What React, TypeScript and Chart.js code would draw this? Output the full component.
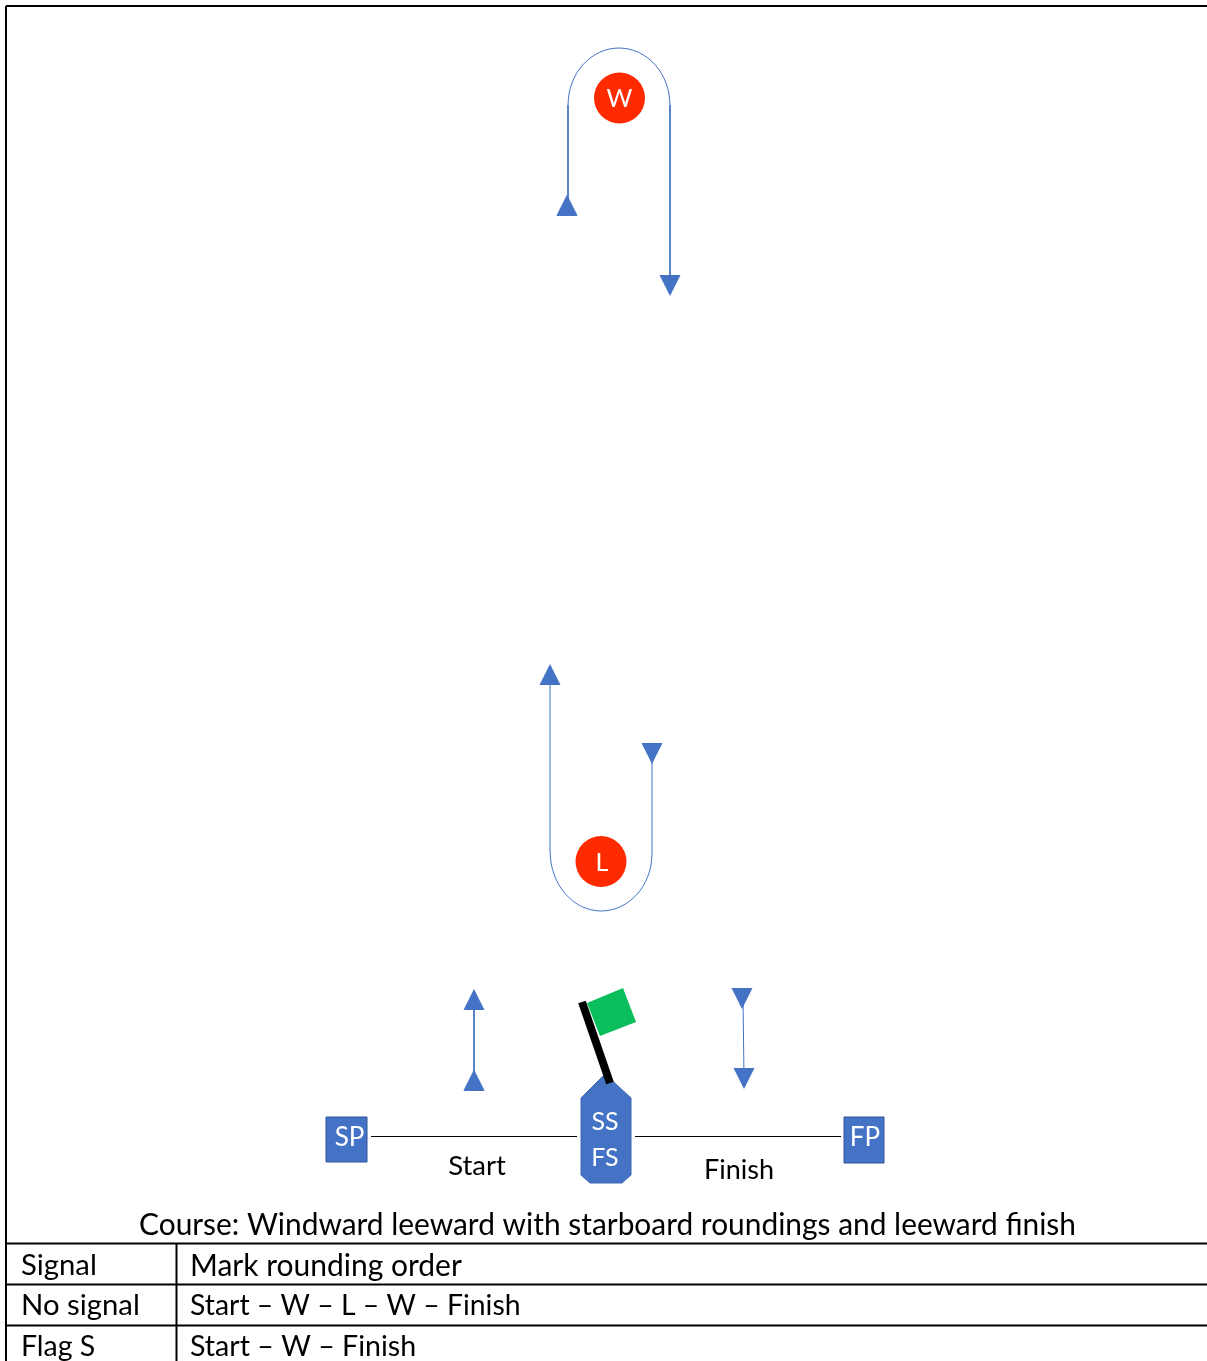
import React, { useEffect, useRef } from "react";
import { Chart, registerables } from "chart.js";

Chart.register(...registerables);

type P = { x: number; y: number };
type Label = { text: string; x: number; y: number; color: string; size: number; align?: CanvasTextAlign };

const BLUE = "#4472C4";
const RED = "#FF2A00";
const GREEN = "#0ABF5B";

const windwardArc: P[] = [
  { x: 568, y: 105 }, { x: 569, y: 94 }, { x: 572, y: 83 }, { x: 576.6, y: 73.3 }, { x: 583, y: 64.7 },
  { x: 590.7, y: 57.6 }, { x: 599.5, y: 52.3 }, { x: 609, y: 49.1 }, { x: 619, y: 48 },
  { x: 629, y: 49.1 }, { x: 638.5, y: 52.3 }, { x: 647.3, y: 57.6 }, { x: 655, y: 64.7 },
  { x: 661.4, y: 73.3 }, { x: 666, y: 83 }, { x: 669, y: 94 }, { x: 670, y: 105 },
];
const leewardArc: P[] = [
  { x: 550, y: 851 }, { x: 551, y: 862.7 }, { x: 554, y: 874 }, { x: 558.6, y: 884.3 }, { x: 565, y: 893.4 },
  { x: 572.7, y: 900.9 }, { x: 581.5, y: 906.4 }, { x: 591, y: 909.8 }, { x: 601, y: 911 },
  { x: 611, y: 909.9 }, { x: 620.5, y: 906.7 }, { x: 629.3, y: 901.4 }, { x: 637, y: 894.3 },
  { x: 643.4, y: 885.7 }, { x: 648, y: 875.8 }, { x: 651, y: 865.1 }, { x: 652, y: 854 },
];
const blueLegs: P[][] = [
  [{ x: 568, y: 105 }, { x: 568, y: 200 }],
  [{ x: 670, y: 105 }, { x: 670, y: 285 }],
  [{ x: 550, y: 851 }, { x: 550, y: 675 }],
  [{ x: 652, y: 854 }, { x: 652, y: 755 }],
  [{ x: 474, y: 1000 }, { x: 474, y: 1080 }],
  [{ x: 743, y: 998 }, { x: 744, y: 1078 }],
];
const blackLines: P[][] = [
  [{ x: 371, y: 1136.5 }, { x: 577, y: 1136.5 }],
  [{ x: 635, y: 1136.5 }, { x: 841, y: 1136.5 }],
];
const tableLines: P[][] = [
  [{ x: 6, y: 6 }, { x: 1207, y: 6 }],
  [{ x: 6, y: 6 }, { x: 6, y: 1361 }],
  [{ x: 6, y: 1243.5 }, { x: 1207, y: 1243.5 }],
  [{ x: 6, y: 1284.5 }, { x: 1207, y: 1284.5 }],
  [{ x: 6, y: 1325.5 }, { x: 1207, y: 1325.5 }],
  [{ x: 176.5, y: 1243 }, { x: 176.5, y: 1361 }],
];
const flagPole: P[] = [{ x: 582, y: 1002 }, { x: 610, y: 1083 }];

const upArrows: P[] = [
  { x: 567, y: 205 }, { x: 550, y: 674.5 }, { x: 474, y: 999.5 }, { x: 474, y: 1080 },
];
const downArrows: P[] = [
  { x: 670, y: 285.5 }, { x: 652, y: 753.5 }, { x: 742, y: 998.5 }, { x: 744, y: 1078.5 },
];
const markPoints: P[] = [{ x: 619.5, y: 98 }, { x: 601, y: 861.5 }];

const boat: P[] = [
  { x: 605, y: 1074 }, { x: 631, y: 1098 }, { x: 631, y: 1175 }, { x: 622, y: 1183 },
  { x: 590, y: 1183 }, { x: 581, y: 1175 }, { x: 581, y: 1098 },
];
const startPin: P[] = [{ x: 326, y: 1117 }, { x: 367, y: 1117 }, { x: 367, y: 1162 }, { x: 326, y: 1162 }];
const finishPin: P[] = [{ x: 844, y: 1117 }, { x: 884, y: 1117 }, { x: 884, y: 1163 }, { x: 844, y: 1163 }];
const flag: P[] = [{ x: 587, y: 1003 }, { x: 623, y: 988 }, { x: 636, y: 1022 }, { x: 600, y: 1036 }];

const labels: Label[] = [
  { text: "W", x: 619.5, y: 99, color: "#FFFFFF", size: 25 },
  { text: "L", x: 602, y: 863, color: "#FFFFFF", size: 25 },
  { text: "SS", x: 605, y: 1122, color: "#FFFFFF", size: 25 },
  { text: "FS", x: 605, y: 1158, color: "#FFFFFF", size: 25 },
  { text: "SP", x: 349.5, y: 1138, color: "#FFFFFF", size: 26 },
  { text: "FP", x: 865, y: 1138, color: "#FFFFFF", size: 26 },
  { text: "Start", x: 477, y: 1166, color: "#000000", size: 27.5 },
  { text: "Finish", x: 739, y: 1170, color: "#000000", size: 27 },
  { text: "Course: Windward leeward with starboard roundings and leeward finish", x: 607.5, y: 1225, color: "#000000", size: 29.9 },
  { text: "Signal", x: 21, y: 1266, color: "#000000", size: 29.3, align: "left" },
  { text: "Mark rounding order", x: 190, y: 1266, color: "#000000", size: 30, align: "left" },
  { text: "No signal", x: 21, y: 1306, color: "#000000", size: 29.3, align: "left" },
  { text: "Start – W – L – W – Finish", x: 190, y: 1306, color: "#000000", size: 28.4, align: "left" },
  { text: "Flag S", x: 21, y: 1347, color: "#000000", size: 28.5, align: "left" },
  { text: "Start – W – Finish", x: 190, y: 1347, color: "#000000", size: 28.6, align: "left" },
];

const polygons: { pts: P[]; fill: string; stroke?: string }[] = [
  { pts: boat, fill: BLUE, stroke: "#3F69B5" },
  { pts: startPin, fill: BLUE, stroke: "#2F5597" },
  { pts: finishPin, fill: BLUE, stroke: "#2F5597" },
  { pts: flag, fill: GREEN },
];

const lineSet = (data: P[], color: string, width: number, tension = 0) => ({
  data,
  showLine: true,
  borderColor: color,
  borderWidth: width,
  pointRadius: 0,
  tension,
  fill: false,
});

const trianglePoint = (down: boolean) => {
  const c = document.createElement("canvas");
  c.width = 22;
  c.height = 21;
  const g = c.getContext("2d")!;
  g.fillStyle = BLUE;
  g.beginPath();
  if (down) {
    g.moveTo(0.5, 0);
    g.lineTo(21.5, 0);
    g.lineTo(11, 21);
  } else {
    g.moveTo(11, 0);
    g.lineTo(21.5, 21);
    g.lineTo(0.5, 21);
  }
  g.closePath();
  g.fill();
  return c;
};

const underlay = {
  id: "underlay",
  beforeDatasetsDraw(chart: any) {
    const { ctx, scales } = chart;
    ctx.save();
    polygons.forEach(({ pts, fill, stroke }) => {
      ctx.beginPath();
      pts.forEach((p, i) => {
        const px = scales.x.getPixelForValue(p.x);
        const py = scales.y.getPixelForValue(p.y);
        if (i === 0) ctx.moveTo(px, py);
        else ctx.lineTo(px, py);
      });
      ctx.closePath();
      ctx.fillStyle = fill;
      ctx.fill();
      if (stroke) {
        ctx.strokeStyle = stroke;
        ctx.lineWidth = 1;
        ctx.stroke();
      }
    });
    ctx.restore();
  },
};

const textLayer = {
  id: "textLayer",
  afterDatasetsDraw(chart: any) {
    const { ctx, scales } = chart;
    ctx.save();
    ctx.textBaseline = "middle";
    labels.forEach((l) => {
      ctx.font = `${l.size}px Lato`;
      ctx.fillStyle = l.color;
      ctx.textAlign = l.align ?? "center";
      ctx.fillText(l.text, scales.x.getPixelForValue(l.x), scales.y.getPixelForValue(l.y));
    });
    ctx.restore();
  },
};

export default function App() {
  const ref = useRef<HTMLCanvasElement>(null);
  useEffect(() => {
    document.body.style.margin = "0";
    const chart = new Chart(ref.current!, {
      type: "scatter",
      data: {
        datasets: [
          lineSet(windwardArc, BLUE, 1, 0.3),
          lineSet(leewardArc, BLUE, 1, 0.3),
          ...blueLegs.map((d) => lineSet(d, BLUE, 1)),
          ...blackLines.map((d) => lineSet(d, "#000000", 1)),
          ...tableLines.map((d) => lineSet(d, "#000000", 2)),
          lineSet(flagPole, "#000000", 8),
          {
            data: upArrows,
            pointStyle: trianglePoint(false),
            pointRadius: 11,
            showLine: false,
          },
          {
            data: downArrows,
            pointStyle: trianglePoint(true),
            pointRadius: 11,
            showLine: false,
          },
          {
            data: markPoints,
            pointStyle: "circle",
            pointRadius: 25.5,
            pointBackgroundColor: RED,
            pointBorderWidth: 0,
            showLine: false,
          },
        ] as any,
      },
      options: {
        animation: false,
        responsive: false,
        devicePixelRatio: 1,
        layout: { padding: 0, autoPadding: false },
        plugins: { legend: { display: false }, tooltip: { enabled: false } },
        scales: {
          x: { type: "linear", min: 0, max: 1207, display: false },
          y: { type: "linear", min: 0, max: 1361, reverse: true, display: false },
        },
      },
      plugins: [underlay, textLayer],
    });
    return () => chart.destroy();
  }, []);
  return (
    <canvas
      ref={ref}
      width={1207}
      height={1361}
      style={{ display: "block", width: 1207, height: 1361, background: "#FFFFFF" }}
    />
  );
}
